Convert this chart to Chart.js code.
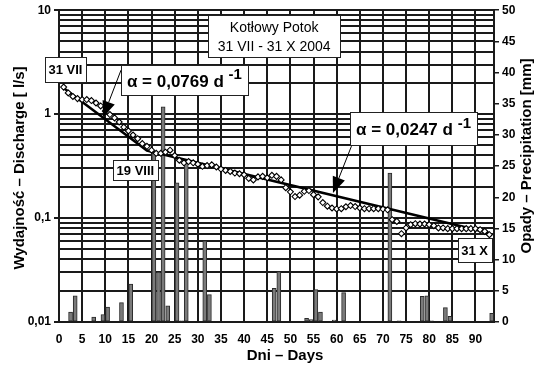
<!DOCTYPE html>
<html>
<head>
<meta charset="utf-8">
<script src="https://cdn.jsdelivr.net/npm/chart.js@4.4.1/dist/chart.umd.min.js"></script>
<style>
  html, body { margin: 0; padding: 0; background: #fff; }
  #wykres { display: block; }
</style>
</head>
<body>
<canvas id="wykres" width="543" height="370"></canvas>
<script>
// Dni obserwacji: 31 VII (dzień 1) - 31 X 2004 (dzień 93)
var dni = Array.from({ length: 93 }, function (_, i) { return i + 1; });

// Wydajność źródła [l/s]
var wydajnosc = [
  1.82, 1.60, 1.48, 1.41, 1.38, 1.38, 1.35, 1.28, 1.20, 1.07,
  0.99, 0.92, 0.84, 0.75, 0.69, 0.63, 0.58, 0.52, 0.49, 0.45,
  0.42, 0.42, 0.43, 0.45, 0.40, 0.36, 0.34, 0.35, 0.34, 0.33,
  0.315, 0.32, 0.325, 0.31, 0.296, 0.287, 0.281, 0.271, 0.267, 0.261,
  0.241, 0.233, 0.249, 0.252, 0.244, 0.258, 0.252, 0.233, 0.196, 0.179,
  0.161, 0.166, 0.181, 0.184, 0.168, 0.160, 0.141, 0.130, 0.125, 0.1225,
  0.123, 0.1285, 0.132, 0.129, 0.125, 0.123, 0.123, 0.123, 0.123, 0.122,
  0.120, 0.0964, 0.0929, 0.0708, 0.0803, 0.0864, 0.0883, 0.0877, 0.0877, 0.0864,
  0.0845, 0.0803, 0.0803, 0.0791, 0.0791, 0.0791, 0.0791, 0.0791, 0.0791, 0.0791,
  0.0773, 0.0745, 0.0692
];

// Opady dobowe [mm] (słupek rysowany w środku doby)
var dniOpadu = [2, 3, 7, 9, 10, 13, 15, 20, 21, 22, 23, 25, 26, 27, 31, 32,
  46, 47, 53, 54, 55, 56, 59, 61, 71, 73, 78, 79, 80, 83, 84, 93];
var opady = [1.6, 4.2, 0.8, 1.2, 2.4, 3.1, 6.1, 27.4, 8.0, 34.5, 2.6, 22.3, 0.2, 25.5, 13.0, 4.4,
  5.4, 8.1, 0.6, 0.4, 5.2, 1.6, 0.3, 4.7, 23.9, 0.2, 4.1, 4.2, 0.2, 2.3, 0.9, 1.4];

// Krzywe recesji - punkty załamania (31 VII, 19 VIII, 31 X)
var recesjaDni = [1, 19, 93];
var recesjaQ = [1.78, 0.446, 0.0717];

// Opisy osi
var dekadyQ = [0.01, 0.1, 1, 10];
var etykietyQ = ['0,01', '0,1', '1', '10'];

var fontOsi = "'Liberation Sans Narrow', 'Liberation Sans', Arial, sans-serif";
var fontOpisu = "'Liberation Sans', Arial, sans-serif";

// Ramki z opisami (położenie w jednostkach wykresu: dzień, Q)
var ramki = [
  { linie: ['Kotłowy Potok', '31 VII - 31 X 2004'], dzien: 46.5, q: 5.62, w: 132, h: 42, font: '14px ' + fontOpisu },
  { linie: ['31 VII'], dzien: 1.4, q: 2.68, w: 41, h: 25, font: 'bold 13px ' + fontOpisu },
  { linie: ['19 VIII'], dzien: 16.5, q: 0.29, w: 45, h: 20, font: 'bold 13px ' + fontOpisu },
  { linie: ['31 X'], dzien: 89.8, q: 0.0492, w: 34, h: 24, font: 'bold 13px ' + fontOpisu },
  { alfa: 'α = 0,0769 d', dzien: 27.1, q: 2.12, w: 127, h: 30 },
  { alfa: 'α = 0,0247 d', dzien: 76.6, q: 0.726, w: 127, h: 33 }
];

var strzalki = [
  { od: [13.4, 2.65], cel: [9.5, 0.935] },
  { od: [63.2, 0.492], cel: [59.2, 0.174] }
];

function ramka(ctx, cx, cy, w, h) {
  var x = Math.round(cx - w / 2) + 0.5, y = Math.round(cy - h / 2) + 0.5;
  ctx.fillStyle = '#fff';
  ctx.fillRect(x, y, w, h);
  ctx.strokeStyle = '#222';
  ctx.lineWidth = 1;
  ctx.strokeRect(x, y, w, h);
}

function strzalka(ctx, x1, y1, x2, y2) {
  var kat = Math.atan2(y2 - y1, x2 - x1), dl = 16, pol = 6.5;
  var bx = x2 - dl * Math.cos(kat), by = y2 - dl * Math.sin(kat);
  ctx.strokeStyle = '#000';
  ctx.lineWidth = 1;
  ctx.beginPath();
  ctx.moveTo(x1, y1);
  ctx.lineTo(bx, by);
  ctx.stroke();
  ctx.fillStyle = '#000';
  ctx.beginPath();
  ctx.moveTo(x2, y2);
  ctx.lineTo(bx + pol * Math.sin(kat), by - pol * Math.cos(kat));
  ctx.lineTo(bx - pol * Math.sin(kat), by + pol * Math.cos(kat));
  ctx.closePath();
  ctx.fill();
}

var opisyPlugin = {
  id: 'opisy',
  afterDatasetsDraw: function (chart) {
    var ctx = chart.ctx, sx = chart.scales.x, sy = chart.scales.yQ;
    ctx.save();
    strzalki.forEach(function (s) {
      strzalka(ctx, sx.getPixelForValue(s.od[0]), sy.getPixelForValue(s.od[1]),
        sx.getPixelForValue(s.cel[0]), sy.getPixelForValue(s.cel[1]));
    });
    ramki.forEach(function (r) {
      var cx = sx.getPixelForValue(r.dzien), cy = sy.getPixelForValue(r.q);
      ramka(ctx, cx, cy, r.w, r.h);
      ctx.fillStyle = '#000';
      ctx.textBaseline = 'middle';
      if (r.alfa) {
        ctx.font = 'bold 17px ' + fontOpisu;
        var w1 = ctx.measureText(r.alfa + ' ').width;
        ctx.font = 'bold 15px ' + fontOpisu;
        var w2 = ctx.measureText('-1').width;
        var x0 = cx - (w1 + w2) / 2;
        ctx.textAlign = 'left';
        ctx.font = 'bold 17px ' + fontOpisu;
        ctx.fillText(r.alfa, x0, cy + 2);
        ctx.font = 'bold 15px ' + fontOpisu;
        ctx.fillText('-1', x0 + w1, cy - 5);
      } else {
        ctx.font = r.font;
        ctx.textAlign = 'center';
        var n = r.linie.length, lh = 19;
        r.linie.forEach(function (t, i) {
          ctx.fillText(t, cx, cy + (i - (n - 1) / 2) * lh + 1);
        });
      }
    });
    ctx.restore();
  },
  afterDraw: function (chart) {
    var ctx = chart.ctx;
    ctx.save();
    ctx.fillStyle = '#000';
    ctx.font = 'bold 15px ' + fontOpisu;
    ctx.textAlign = 'center';
    ctx.textBaseline = 'middle';
    ctx.fillText('Dni – Days', 285, 356);
    ctx.translate(20, 168);
    ctx.rotate(-Math.PI / 2);
    ctx.fillText('Wydajność – Discharge [ l/s]', 0, 0);
    ctx.restore();
    ctx.save();
    ctx.fillStyle = '#000';
    ctx.font = 'bold 15px ' + fontOpisu;
    ctx.textAlign = 'center';
    ctx.textBaseline = 'middle';
    ctx.translate(527, 156);
    ctx.rotate(-Math.PI / 2);
    ctx.fillText('Opady – Precipitation [mm]', 0, 0);
    ctx.restore();
  }
};

var kolorSiatki = '#1a1a1a';

var wykres = new Chart(document.getElementById('wykres').getContext('2d'), {
  type: 'scatter',
  data: {
    datasets: [
      {
        label: 'Wydajność',
        type: 'scatter',
        data: dni.map(function (d, i) { return { x: d, y: wydajnosc[i] }; }),
        yAxisID: 'yQ',
        pointStyle: 'rectRot',
        pointRadius: 3,
        borderColor: '#000',
        backgroundColor: '#fff',
        borderWidth: 1.1,
        order: 0
      },
      {
        label: 'Recesja',
        type: 'line',
        data: recesjaDni.map(function (d, i) { return { x: d, y: recesjaQ[i] }; }),
        yAxisID: 'yQ',
        borderColor: '#000',
        borderWidth: 2.5,
        pointRadius: 0,
        fill: false,
        order: 1
      },
      {
        label: 'Opady',
        type: 'bar',
        data: dniOpadu.map(function (d, i) { return { x: d + 0.5, y: opady[i] }; }),
        yAxisID: 'yP',
        barThickness: 4,
        backgroundColor: '#7a7a7a',
        borderColor: '#2a2a2a',
        borderWidth: 1,
        borderSkipped: false,
        order: 2
      }
    ]
  },
  options: {
    responsive: false,
    animation: false,
    layout: { padding: { top: 10, left: 0, right: 0, bottom: 0 } },
    plugins: { legend: { display: false }, tooltip: { enabled: false } },
    scales: {
      x: {
        type: 'linear',
        min: 0,
        max: 94,
        offset: false,
        grid: { color: kolorSiatki, lineWidth: 2, drawTicks: false, offset: false },
        border: { color: kolorSiatki, width: 2 },
        ticks: {
          stepSize: 5,
          includeBounds: false,
          autoSkip: false,
          maxRotation: 0,
          padding: 10,
          color: '#000',
          font: { family: fontOsi, size: 12, weight: 'bold' }
        },
        afterFit: function (s) { s.height = 48; }
      },
      yQ: {
        type: 'logarithmic',
        position: 'left',
        min: 0.01,
        max: 10,
        grid: {
          color: kolorSiatki,
          lineWidth: 2,
          tickLength: 5,
          tickColor: function (c) { return c.index % 9 === 0 ? kolorSiatki : 'rgba(0,0,0,0)'; }
        },
        border: { color: kolorSiatki, width: 2 },
        afterBuildTicks: function (s) {
          var t = [];
          dekadyQ.slice(0, 3).forEach(function (d) {
            for (var k = 1; k <= 9; k++) t.push({ value: d * k });
          });
          t.push({ value: dekadyQ[3] });
          s.ticks = t;
        },
        ticks: {
          autoSkip: false,
          padding: 3,
          color: '#000',
          font: { family: fontOsi, size: 12, weight: 'bold' },
          callback: function (v, i) { return i % 9 === 0 ? etykietyQ[i / 9] : ''; }
        },
        afterFit: function (s) { s.width = 59; }
      },
      yP: {
        type: 'linear',
        position: 'right',
        min: 0,
        max: 50,
        grid: { drawOnChartArea: false, color: kolorSiatki, lineWidth: 1.5, tickLength: 5 },
        border: { color: kolorSiatki, width: 2 },
        ticks: {
          stepSize: 5,
          padding: 3,
          color: '#000',
          font: { family: fontOsi, size: 12, weight: 'bold' }
        },
        afterFit: function (s) { s.width = 49; }
      }
    }
  },
  plugins: [opisyPlugin]
});
</script>
</body>
</html>
